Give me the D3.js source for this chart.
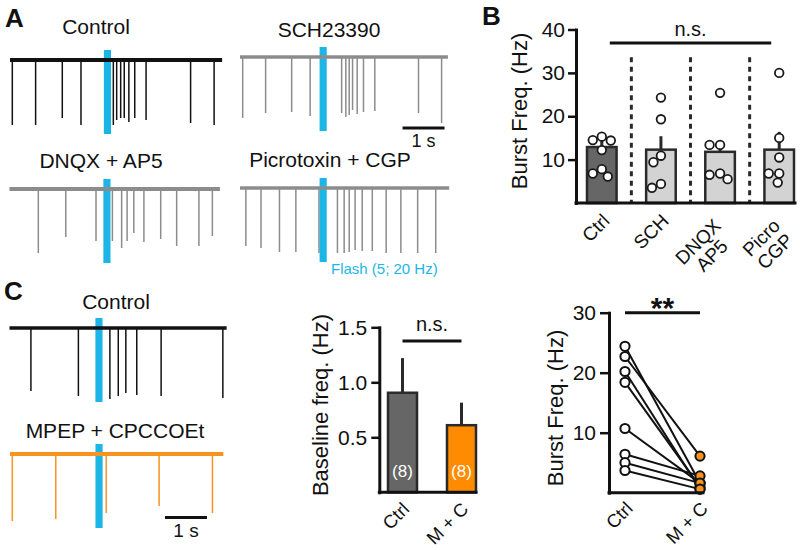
<!DOCTYPE html>
<html><head><meta charset="utf-8">
<script src="https://cdn.jsdelivr.net/npm/d3@7"></script>
<style>
body{margin:0;background:#fff}
svg{font-family:"Liberation Sans",Arial,Helvetica,sans-serif;}
</style>
</head><body>
<svg id="fig" width="800" height="550"></svg>
<script>
// ---------------- DATA ----------------
// Panel A/C traces: spike times (s) and amplitudes (pA, arbitrary scale)
const ctrlA_times = [0.055, 0.61, 1.245, 1.69, 2.46, 2.54, 2.635, 2.72, 2.83, 2.97, 3.24, 4.30, 4.86];
const ctrlA_amps  = [-65, -65, -58, -65, -65, -60, -58, -58, -62, -58, -60, -63, -65];
const schA_times  = [0.064, 0.61, 1.23, 1.67, 2.42, 2.52, 2.60, 2.68, 2.79, 2.94, 3.21, 4.25, 4.80];
const schA_amps   = [-61, -56, -55, -59, -56, -60, -58, -53, -57, -55, -54, -56, -66];
const dnqxA_times = [0.686, 1.34, 2.06, 2.45, 2.67, 2.80, 2.96, 3.20, 3.60, 3.98, 4.51, 4.83];
const dnqxA_amps  = [-64, -48, -52, -52, -59, -52, -44, -53, -50, -57, -57, -47];
const picroA_times= [0.14, 0.50, 0.94, 1.33, 1.88, 2.32, 2.48, 2.60, 2.74, 2.91, 3.15, 3.48, 3.83, 4.23, 4.66];
const picroA_amps = [-58, -60, -64, -64, -65, -65, -65, -64, -62, -63, -63, -65, -65, -65, -65];
const ctrlC_times = [0.51, 1.64, 2.39, 2.59, 2.77, 3.03, 3.61, 5.08];
const ctrlC_amps  = [-63, -68, -71, -68, -65, -67, -68, -70];
const mpepC_times = [0.055, 1.09, 2.29, 3.55, 4.82];
const mpepC_amps  = [-67, -65, -59, -52, -59];
const flashTimes  = [2.32, 1.98, 2.32, 1.98, 2.13, 2.12];
const traceDurations = [5.05, 4.95, 5.01, 4.98, 5.17, 5.08];
const traceTitles = ["Control", "SCH23390", "DNQX + AP5", "Picrotoxin + CGP", "Control", "MPEP + CPCCOEt"];

// Panel B
const bCategories = ["Ctrl", "SCH", "DNQX AP5", "Picro CGP"];
const bLabelLines = [["Ctrl"], ["SCH"], ["DNQX", "AP5"], ["Picro", "CGP"]];
const bMeans = [12.9, 12.3, 11.8, 12.3];
const bSems  = [3.2, 3.1, 2.7, 4.1];
const bPoints = [
  [15.3, 14.5, 14.4, 12.2, 7.8, 6.8, 6.1],
  [24.3, 19.3, 10.9, 9.4, 4.4, 3.5],
  [25.4, 13.4, 13.4, 6.8, 6.5, 5.5],
  [30.0, 15.0, 10.5, 6.8, 6.8, 4.7]
];
const bTicks = [10, 20, 30, 40];

// Panel C baseline frequency
const cCategories = ["Ctrl", "M + C"];
const cMeans = [0.905, 0.61];
const cSems  = [0.315, 0.205];
const cN     = [8, 8];
const cTicks = [0.5, 1.0, 1.5];

// Panel C paired burst frequency
const pCategories = ["Ctrl", "M + C"];
const pCtrl = [24.4, 22.7, 20.2, 18.4, 10.7, 6.4, 5.0, 3.7];
const pMC   = [1.6, 6.1, 0.6, 1.0, 1.6, 2.8, 1.6, 0.6];
const pTicks = [10, 20, 30];

// ---------------- STYLE ----------------
const CYAN = "#1cb6e6", ORANGE = "#f7931e", BAR_ORANGE = "#ff8c00";
const GRAY_TRACE = "#8c8c8c", DARK = "#2a2a2a";
const svg = d3.select("#fig");

// ---------------- TRACES ----------------
const pxPerSec = 42;
const traceLayout = [
  {x0: 10,  base: 60,  color: "#111",   tx: 96,  ty: 34,  times: ctrlA_times, amps: ctrlA_amps, bw: 4},
  {x0: 240, base: 57,  color: GRAY_TRACE, tx: 329, ty: 37, times: schA_times, amps: schA_amps, bw: 3.5},
  {x0: 9.5, base: 189, color: GRAY_TRACE, tx: 101, ty: 168, times: dnqxA_times, amps: dnqxA_amps, bw: 4},
  {x0: 240, base: 188, color: GRAY_TRACE, tx: 330, ty: 167, times: picroA_times, amps: picroA_amps, bw: 3.5},
  {x0: 9.5, base: 328, color: "#111",   tx: 116, ty: 309, times: ctrlC_times, amps: ctrlC_amps, bw: 3.5},
  {x0: 10,  base: 454, color: ORANGE,   tx: 115, ty: 438, times: mpepC_times, amps: mpepC_amps, bw: 4}
];
const traceScales = [];
traceLayout.forEach((L, i) => {
  const dur = traceDurations[i];
  const x = d3.scaleLinear().domain([0, dur]).range([L.x0, L.x0 + dur * pxPerSec]);
  const y = d3.scaleLinear().domain([0, -100]).range([L.base, L.base + 100]);
  traceScales.push(x);
  const g = svg.append("g");
  g.selectAll("line.spk").data(L.times).join("line")
    .attr("x1", d => x(d)).attr("x2", d => x(d))
    .attr("y1", y(0)).attr("y2", (d, j) => y(L.amps[j]))
    .attr("stroke", L.color).attr("stroke-width", 1.5);
  const fw = 0.17;
  g.append("rect")
    .attr("x", x(flashTimes[i] - fw / 2)).attr("width", x(fw) - x(0))
    .attr("y", L.base - 10).attr("height", 84)
    .attr("fill", CYAN);
  g.append("line")
    .attr("x1", x(0)).attr("x2", x(dur)).attr("y1", y(0)).attr("y2", y(0))
    .attr("stroke", L.color).attr("stroke-width", L.bw);
  svg.append("text").attr("x", L.tx).attr("y", L.ty).attr("text-anchor", "middle")
    .attr("font-size", 21).attr("fill", "#111").text(traceTitles[i]);
});

// scale bars
function scaleBar(xs, t0, y, ty, fs) {
  svg.append("line").attr("x1", xs(t0)).attr("x2", xs(t0 + 1)).attr("y1", y).attr("y2", y)
    .attr("stroke", "#111").attr("stroke-width", 3);
  svg.append("text").attr("x", (xs(t0) + xs(t0 + 1)) / 2).attr("y", ty).attr("text-anchor", "middle")
    .attr("font-size", fs).attr("fill", "#111").text("1 s");
}
scaleBar(traceScales[1], 3.87, 128, 147, 18);
scaleBar(traceScales[5], 3.69, 517.5, 537, 19);

svg.append("text").attr("x", 331).attr("y", 274).attr("font-size", 15).attr("fill", CYAN)
  .text("Flash (5; 20 Hz)");

// panel letters
[["A", 5, 27], ["B", 482, 25], ["C", 4, 300]].forEach(([t, x, y]) => {
  svg.append("text").attr("x", x).attr("y", y).attr("font-size", 26).attr("font-weight", "bold")
    .attr("fill", "#111").text(t);
});

// helper: rotated x labels (lines centred on each other, block ending at anchor)
function rotLabel(lines, ex, ey, fs) {
  const g = svg.append("g").attr("transform", `translate(${ex},${ey}) rotate(-45)`);
  const ts = lines.map((s, k) => g.append("text").attr("y", k * fs * 1.02)
    .attr("text-anchor", "middle").attr("font-size", fs).attr("fill", "#111").text(s));
  const W = d3.max(ts, t => t.node().getComputedTextLength());
  ts.forEach(t => t.attr("x", -W / 2));
}
function styleAxis(g, fs) {
  g.select(".domain").attr("stroke", "#111").attr("stroke-width", 3).attr("stroke-linecap", "square");
  g.selectAll(".tick line").attr("stroke", "#111").attr("stroke-width", 2.5);
  g.selectAll(".tick text").attr("font-size", fs).attr("fill", "#111")
    .attr("font-family", '"Liberation Sans",Arial,sans-serif');
}
function swarm(values, cx, y, r) {
  const placed = [];
  return values.map(v => {
    const py = y(v);
    let px = cx;
    for (let k = 0; k < 60; k++) {
      const off = k === 0 ? 0 : (k % 2 ? -1 : 1) * Math.ceil(k / 2) * 1.5;
      const cand = cx + off;
      if (placed.every(p => (p[0] - cand) ** 2 + (p[1] - py) ** 2 >= (2 * r) ** 2)) { px = cand; break; }
    }
    placed.push([px, py]);
    return {x: px, y: py};
  });
}

// ---------------- PANEL B ----------------
{
  const y = d3.scaleLinear().domain([0, 40]).range([203, 29.5]);
  const x = d3.scaleBand().domain(bCategories).range([587, 794]).paddingInner(0.5).paddingOuter(0);
  const axX = 576;
  const cx = c => x(c) + x.bandwidth() / 2;
  for (let i = 0; i < bCategories.length - 1; i++) {
    const mx = (cx(bCategories[i]) + cx(bCategories[i + 1])) / 2;
    svg.append("line").attr("x1", mx).attr("x2", mx).attr("y1", y(33.6)).attr("y2", y(0))
      .attr("stroke", DARK).attr("stroke-width", 3).attr("stroke-dasharray", "5,4.5");
  }
  svg.selectAll("rect.bb").data(bCategories).join("rect")
    .attr("x", c => x(c)).attr("width", x.bandwidth())
    .attr("y", (c, i) => y(bMeans[i])).attr("height", (c, i) => y(0) - y(bMeans[i]))
    .attr("fill", (c, i) => i === 0 ? "#666666" : "#d3d3d3")
    .attr("stroke", DARK).attr("stroke-width", 2.5);
  svg.selectAll("line.eb").data(bCategories).join("line")
    .attr("x1", c => cx(c)).attr("x2", c => cx(c))
    .attr("y1", (c, i) => y(bMeans[i])).attr("y2", (c, i) => y(bMeans[i] + bSems[i]))
    .attr("stroke", DARK).attr("stroke-width", 3);
  bCategories.forEach((c, i) => {
    const pts = swarm(bPoints[i], cx(c), y, 4.6);
    svg.selectAll(null).data(pts).join("circle")
      .attr("cx", d => d.x).attr("cy", d => d.y).attr("r", 4.3)
      .attr("fill", "#fff").attr("stroke", "#1a1a1a").attr("stroke-width", 1.8);
  });
  const ga = svg.append("g").attr("transform", `translate(${axX},0)`)
    .call(d3.axisLeft(y).tickValues(bTicks).tickSize(8).tickSizeOuter(0).tickPadding(3));
  styleAxis(ga, 21);
  svg.append("line").attr("x1", axX).attr("x2", 795).attr("y1", y(0)).attr("y2", y(0))
    .attr("stroke", "#111").attr("stroke-width", 3).attr("stroke-linecap", "square");
  svg.append("text").attr("transform", `translate(527,111) rotate(-90)`).attr("text-anchor", "middle")
    .attr("font-size", 22).attr("fill", "#111").text("Burst Freq. (Hz)");
  const x1 = cx(bCategories[0]) + 8, x2 = cx(bCategories[3]) - 8;
  svg.append("line").attr("x1", x1).attr("x2", x2).attr("y1", y(36.9)).attr("y2", y(36.9))
    .attr("stroke", "#111").attr("stroke-width", 3);
  svg.append("text").attr("x", (x1 + x2) / 2).attr("y", y(38.6)).attr("text-anchor", "middle")
    .attr("font-size", 20).attr("fill", "#111").text("n.s.");
  bCategories.forEach((c, i) => {
    const lines = bLabelLines[i];
    if (lines.length === 1) rotLabel(lines, cx(c) + 9, y(0) + 19, 19);
    else rotLabel(lines, cx(c) + 2, y(0) + 24, 19);
  });
}

// ---------------- PANEL C baseline ----------------
{
  const y = d3.scaleLinear().domain([0, 1.5]).range([492.3, 327.3]);
  const x = d3.scaleBand().domain(cCategories).range([388, 476]).paddingInner(0.508).paddingOuter(0);
  const axX = 379.3;
  const cx = c => x(c) + x.bandwidth() / 2;
  svg.selectAll("line.ceb").data(cCategories).join("line")
    .attr("x1", c => cx(c)).attr("x2", c => cx(c))
    .attr("y1", (c, i) => y(cMeans[i])).attr("y2", (c, i) => y(cMeans[i] + cSems[i]))
    .attr("stroke", DARK).attr("stroke-width", 3);
  svg.selectAll("rect.cb").data(cCategories).join("rect")
    .attr("x", c => x(c)).attr("width", x.bandwidth())
    .attr("y", (c, i) => y(cMeans[i])).attr("height", (c, i) => y(0) - y(cMeans[i]))
    .attr("fill", (c, i) => i === 0 ? "#666666" : BAR_ORANGE)
    .attr("stroke", DARK).attr("stroke-width", 2.5);
  svg.selectAll("text.cn").data(cCategories).join("text")
    .attr("x", c => cx(c)).attr("y", 477).attr("text-anchor", "middle")
    .attr("font-size", 17).attr("fill", "#fff").text((c, i) => `(${cN[i]})`);
  const ga = svg.append("g").attr("transform", `translate(${axX},0)`)
    .call(d3.axisLeft(y).tickValues(cTicks).tickFormat(d3.format(".1f")).tickSize(8).tickSizeOuter(0).tickPadding(4));
  styleAxis(ga, 21);
  svg.append("line").attr("x1", axX).attr("x2", 476).attr("y1", y(0)).attr("y2", y(0))
    .attr("stroke", "#111").attr("stroke-width", 3).attr("stroke-linecap", "square");
  svg.append("text").attr("transform", `translate(328,405) rotate(-90)`).attr("text-anchor", "middle")
    .attr("font-size", 22).attr("fill", "#111").text("Baseline freq. (Hz)");
  svg.append("line").attr("x1", cx(cCategories[0])).attr("x2", cx(cCategories[1]))
    .attr("y1", y(1.375)).attr("y2", y(1.375)).attr("stroke", "#111").attr("stroke-width", 3);
  svg.append("text").attr("x", (cx(cCategories[0]) + cx(cCategories[1])) / 2).attr("y", y(1.469))
    .attr("text-anchor", "middle").attr("font-size", 20).attr("fill", "#111").text("n.s.");
  cCategories.forEach(c => rotLabel([c], cx(c) + 8, y(0) + 18, 18.5));
}

// ---------------- PANEL C paired ----------------
{
  const y = d3.scaleLinear().domain([0, 30]).range([492.7, 312.7]);
  const x = d3.scalePoint().domain(pCategories).range([625, 700]);
  const axX = 609;
  svg.selectAll("line.pl").data(pCtrl).join("line")
    .attr("x1", x(pCategories[0])).attr("x2", x(pCategories[1]))
    .attr("y1", d => y(d)).attr("y2", (d, i) => y(pMC[i]))
    .attr("stroke", "#111").attr("stroke-width", 2);
  svg.selectAll("circle.pc").data(pCtrl).join("circle")
    .attr("cx", x(pCategories[0])).attr("cy", d => y(d)).attr("r", 4.6)
    .attr("fill", "#fff").attr("stroke", "#111").attr("stroke-width", 2);
  svg.selectAll("circle.pm").data(pMC).join("circle")
    .attr("cx", x(pCategories[1])).attr("cy", d => y(d)).attr("r", 4.6)
    .attr("fill", ORANGE).attr("stroke", "#111").attr("stroke-width", 2);
  const ga = svg.append("g").attr("transform", `translate(${axX},0)`)
    .call(d3.axisLeft(y).tickValues(pTicks).tickSize(9).tickSizeOuter(0).tickPadding(4));
  styleAxis(ga, 21);
  svg.append("line").attr("x1", axX).attr("x2", 703).attr("y1", y(0)).attr("y2", y(0))
    .attr("stroke", "#111").attr("stroke-width", 3).attr("stroke-linecap", "square");
  svg.append("text").attr("transform", `translate(563,408) rotate(-90)`).attr("text-anchor", "middle")
    .attr("font-size", 22).attr("fill", "#111").text("Burst Freq. (Hz)");
  svg.append("line").attr("x1", x(pCategories[0])).attr("x2", x(pCategories[1]))
    .attr("y1", y(30)).attr("y2", y(30)).attr("stroke", "#111").attr("stroke-width", 3);
  svg.append("text").attr("x", (x(pCategories[0]) + x(pCategories[1])) / 2).attr("y", 318)
    .attr("text-anchor", "middle").attr("font-size", 30).attr("font-weight", "bold")
    .attr("fill", "#111").text("**");
  pCategories.forEach(c => rotLabel([c], x(c) + 9, y(0) + 17, 18.5));
}
</script>
</body></html>
